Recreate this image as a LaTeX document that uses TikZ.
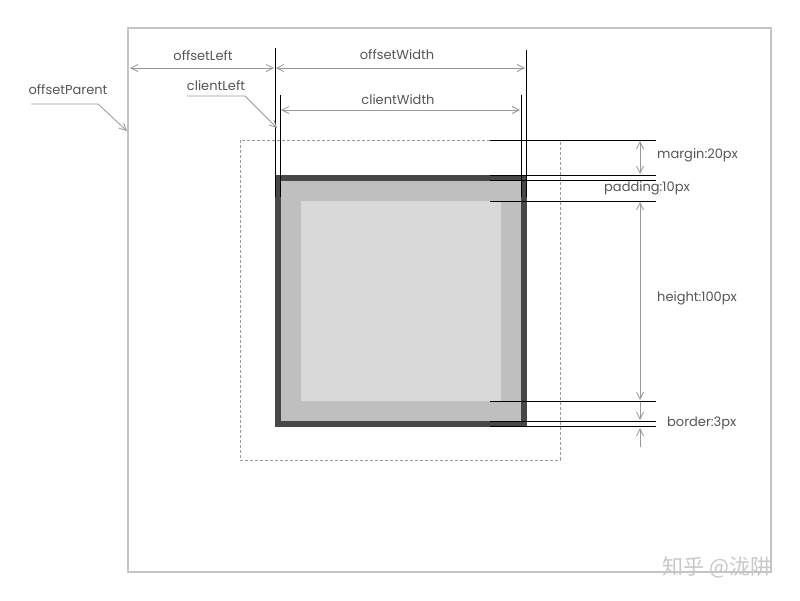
\documentclass[tikz,border=0pt]{standalone}
\usepackage{fontspec}
\setmainfont{Poppins}
\newfontfamily\cjk{Noto Sans CJK SC}
\usetikzlibrary{arrows.meta}
\definecolor{bordc}{HTML}{474747}
\definecolor{padc}{HTML}{BFBFBF}
\definecolor{contc}{HTML}{D9D9D9}
\definecolor{framec}{HTML}{C4C4C4}
\definecolor{dimc}{HTML}{999999}
\definecolor{txtc}{HTML}{555555}
\tikzset{
  ext/.style={black, line width=0.9pt},
  dimline/.style={dimc, line width=0.8pt, {Straight Barb[length=7pt,width=7pt]}-{Straight Barb[length=7pt,width=7pt]}},
  leader/.style={dimc, line width=0.8pt, -{Straight Barb[length=7pt,width=7pt]}},
  lbl/.style={font=\fontsize{13}{15}\selectfont, text=txtc, inner sep=0pt},
}
\begin{document}
\begin{tikzpicture}[x=1pt,y=-1pt]
\useasboundingbox[fill=white] (0,0) rectangle (800,600);
% offsetParent frame
\draw[framec, line width=2.5pt] (128,28) rectangle (771,572);
% margin box
\draw[dimc, line width=0.7pt, dash pattern=on 3pt off 2pt] (240,140) rectangle (560,460);
% border box
\fill[bordc] (275,175) rectangle (527,427);
\fill[padc] (281,181) rectangle (521,421);
\fill[contc] (301,201) rectangle (501,401);
% vertical extension lines
\coordinate (vl1t) at (275,48); \coordinate (vl1b) at (275,197);
\coordinate (vl2t) at (280,95); \coordinate (vl2b) at (280,197);
\coordinate (vr1t) at (526,50); \coordinate (vr1b) at (526,197);
\coordinate (vr2t) at (521,95); \coordinate (vr2b) at (521,197);
\draw[ext] (vl1t) -- (vl1b);
\draw[ext] (vl2t) -- (vl2b);
\draw[ext] (vr1t) -- (vr1b);
\draw[ext] (vr2t) -- (vr2b);
% horizontal extension lines
\foreach \yy in {140,175,180,201,401,421,426}{
  \draw[ext] (490,\yy) -- (656,\yy);
}
% horizontal dimensions
\coordinate (olA) at (130,68); \coordinate (olB) at (274,68);
\coordinate (owA) at (276,68); \coordinate (owB) at (525,68);
\coordinate (cwA) at (281,110); \coordinate (cwB) at (520,110);
\draw[dimline] (olA) -- (olB);
\draw[dimline] (owA) -- (owB);
\draw[dimline] (cwA) -- (cwB);
\node[lbl] (offsetLeft) at (203,56) {offsetLeft};
\node[lbl] (offsetWidth) at (397,55) {offsetWidth};
\node[lbl] (clientWidth) at (398,100) {clientWidth};
% leaders
\node[lbl] (clientLeft) at (216,86) {clientLeft};
\node[lbl] (offsetParent) at (68,90) {offsetParent};
\coordinate (clA) at (187,96); \coordinate (clB) at (245,96); \coordinate (clC) at (277,128);
\draw[leader] (clA) -- (clB) -- (clC);
\coordinate (opA) at (31,104); \coordinate (opB) at (98,104); \coordinate (opC) at (127,131);
\draw[leader] (opA) -- (opB) -- (opC);
% vertical dimensions
\coordinate (mA) at (640,141); \coordinate (mB) at (640,174);
\coordinate (hA) at (640,202); \coordinate (hB) at (640,400);
\coordinate (pA) at (640,402); \coordinate (pB) at (640,420);
\coordinate (bA) at (640,447); \coordinate (bB) at (640,428);
\draw[dimline] (mA) -- (mB);
\draw[dimline] (hA) -- (hB);
\draw[leader] (pA) -- (pB);
\draw[leader] (bA) -- (bB);
\node[lbl, anchor=west] (margin) at (657,155) {margin:20px};
\node[lbl, anchor=west] (padding) at (604,188) {padding:10px};
\node[lbl, anchor=west] (height) at (657,298) {height:100px};
\node[lbl, anchor=west] (border) at (667,423) {border:3px};
% watermark
\node[text=black!22, font=\cjk\fontsize{21}{24}\selectfont, inner sep=0pt] (wm) at (717,567) {知乎 @泷阱};
\end{tikzpicture}
\end{document}
